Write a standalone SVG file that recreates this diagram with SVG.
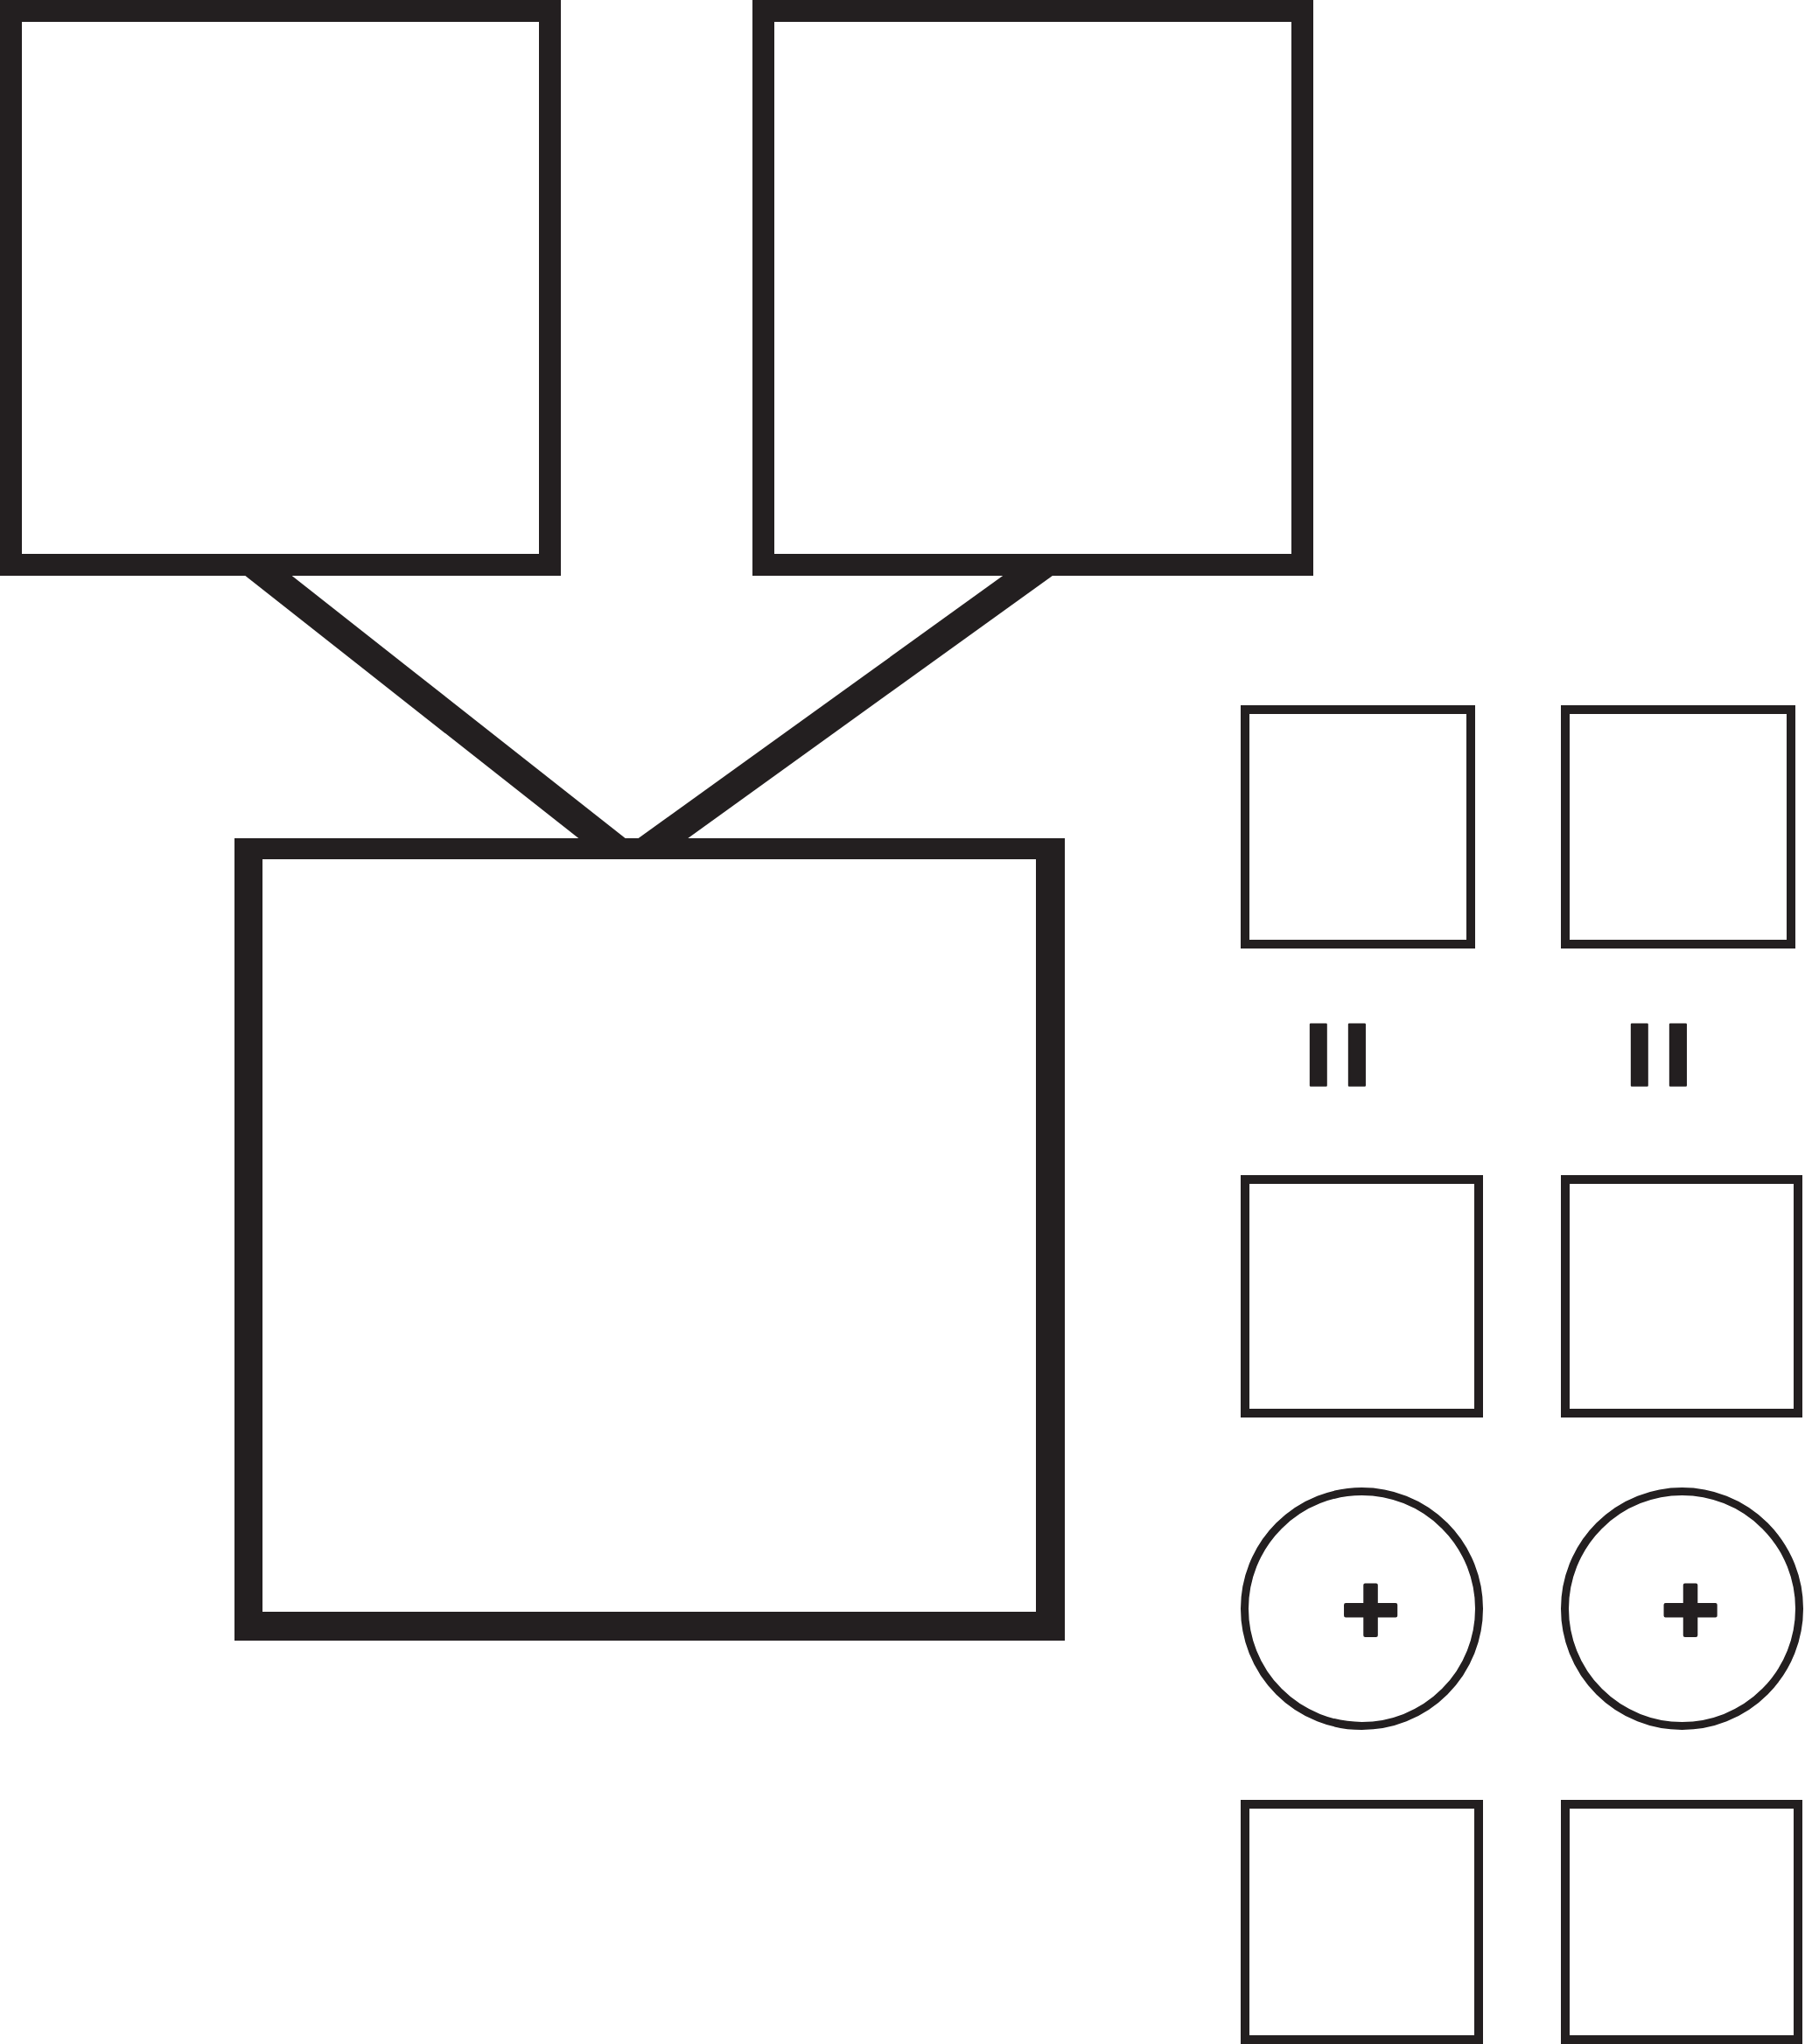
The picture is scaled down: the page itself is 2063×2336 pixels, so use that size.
<svg xmlns="http://www.w3.org/2000/svg" width="2063" height="2336" viewBox="0 0 2063 2336">
<style>
  .conn { stroke: #231f20; stroke-width: 33; fill: none; }
  .big { fill: #231f20; fill-rule: evenodd; }
  .inner { fill: #ffffff; }
  .sq { fill: #ffffff; stroke: #231f20; stroke-width: 10; }
  .circ { fill: #ffffff; stroke: #231f20; stroke-width: 9; }
  .sym { font-family: "Liberation Sans", Arial, sans-serif; font-weight: bold; fill: #231f20; stroke: #231f20; stroke-linejoin: round; text-anchor: middle; }
</style>
<rect x="0" y="0" width="2063" height="2336" fill="#ffffff"/>
<g id="connectors">
  <line class="conn" x1="258.7" y1="620" x2="728.6" y2="990"/>
  <line class="conn" x1="1227.3" y1="620" x2="713.6" y2="990"/>
</g>
<g id="box-top-left">
  <rect x="0" y="0" width="641" height="658" class="inner"/>
  <path class="big" d="M0,0 H641 V658 H0 Z M25,25 V633 H616 V25 Z"/>
</g>
<g id="box-top-right">
  <rect x="860" y="0" width="641" height="658" class="inner"/>
  <path class="big" d="M860,0 H1501 V658 H860 Z M885,25 V633 H1476 V25 Z"/>
</g>
<g id="box-bottom">
  <rect x="268" y="958" width="949" height="917" class="inner"/>
  <path class="big" d="M268,958 H1217 V1875 H268 Z M300,982 V1842 H1184 V982 Z"/>
</g>
<g id="sq-a1"><rect class="sq" x="1423" y="811" width="258" height="268"/></g>
<g id="sq-b1"><rect class="sq" x="1789" y="811" width="258" height="268"/></g>
<g id="eq-a"><text class="sym" font-size="140" stroke-width="2" transform="translate(1529,1205.5) rotate(90) scale(1,1.17)" x="0" y="45.8">=</text></g>
<g id="eq-b"><text class="sym" font-size="140" stroke-width="2" transform="translate(1895.5,1205.5) rotate(90) scale(1,1.17)" x="0" y="45.8">=</text></g>
<g id="sq-a2"><rect class="sq" x="1423" y="1348" width="267" height="267"/></g>
<g id="sq-b2"><rect class="sq" x="1789" y="1348" width="266" height="267"/></g>
<g id="circ-a">
  <circle class="circ" cx="1556.5" cy="1838.5" r="134"/>
  <text class="sym" font-size="114" stroke-width="4" x="1566.5" y="1878.3">+</text>
</g>
<g id="circ-b">
  <circle class="circ" cx="1922.5" cy="1838.5" r="134"/>
  <text class="sym" font-size="114" stroke-width="4" x="1932" y="1878.3">+</text>
</g>
<g id="sq-a3"><rect class="sq" x="1423" y="2062" width="267" height="269"/></g>
<g id="sq-b3"><rect class="sq" x="1789" y="2062" width="266" height="269"/></g>
</svg>
